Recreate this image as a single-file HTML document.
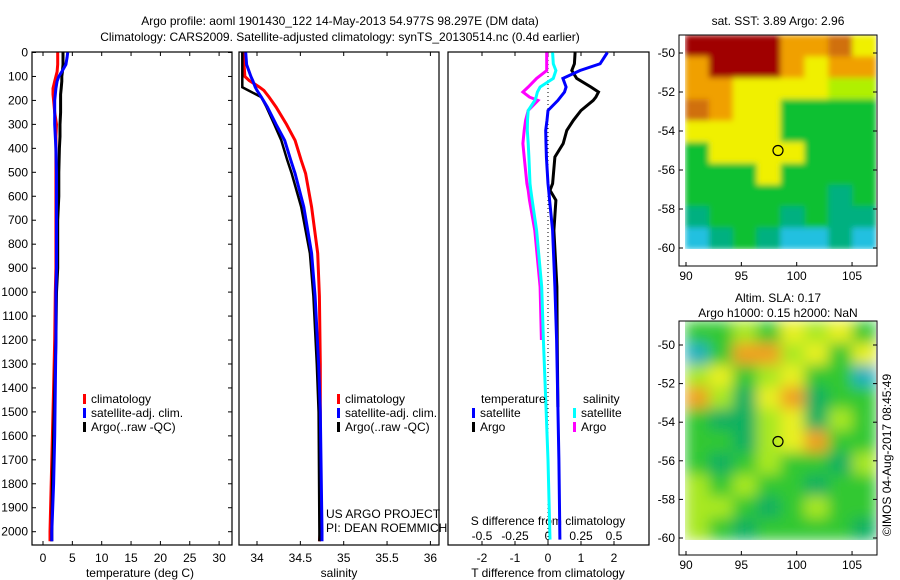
<!DOCTYPE html>
<html><head><meta charset="utf-8"><style>
body{margin:0;background:#fff;}
svg{display:block;font-family:"Liberation Sans",sans-serif;font-size:12px;}
</style></head><body>
<svg id="c" width="900" height="580" viewBox="0 0 900 580">
<defs>
<filter id="bl" x="0" y="0" width="1" height="1"><feGaussianBlur stdDeviation="7" edgeMode="duplicate"/></filter>
<filter id="bl1" x="0" y="0" width="1" height="1"><feGaussianBlur stdDeviation="3" edgeMode="duplicate"/></filter>
<clipPath id="cm1"><rect x="685" y="35" width="191" height="214"/></clipPath>
<clipPath id="cm2"><rect x="685" y="321" width="191" height="219"/></clipPath>
</defs>
<text x="340" y="25" text-anchor="middle">Argo profile: aoml 1901430_122 14-May-2013 54.977S 98.297E (DM data)</text>
<text x="340" y="41" text-anchor="middle">Climatology: CARS2009. Satellite-adjusted climatology: synTS_20130514.nc (0.4d earlier)</text>
<g id="g"></g>
</svg>
<script>
const depthT=[0,20,50,80,100,120,150,175,200,250,300,350,400,500,600,700,800,900,1000,1200,1400,1600,1800,2000,2040];
const tClim=[2.5,2.5,2.5,2.4,2.2,2.0,1.7,1.7,1.8,2.0,2.3,2.2,2.2,2.2,2.2,2.2,2.2,2.2,2.1,2.0,1.8,1.6,1.4,1.2,1.2];
const tSat=[4.2,4.1,3.9,3.2,2.7,2.4,2.2,2.1,2.0,2.0,2.0,2.1,2.2,2.3,2.3,2.3,2.3,2.3,2.2,2.2,2.1,2.0,1.8,1.5,1.5];
const tArgo=[3.4,3.4,3.4,3.3,3.2,3.2,3.1,3.0,3.0,3.0,2.9,2.9,2.8,2.7,2.7,2.5,2.5,2.5,2.3,2.2,2.0,1.8,1.6,1.5,1.5];
const depthS=[0,50,100,117,145,158,186,228,300,367,450,505,645,838,1017,1300,1500,2000,2040];
const sClim=[33.85,33.85,33.86,33.91,34.03,34.08,34.14,34.22,34.34,34.44,34.51,34.56,34.63,34.70,34.72,34.73,34.73,34.73,34.72];
const sSat=[33.87,33.88,33.93,33.95,33.98,34.00,34.05,34.12,34.22,34.32,34.39,34.44,34.54,34.63,34.67,34.71,34.73,34.75,34.75];
const sArgo=[33.83,33.83,33.83,33.83,33.83,33.90,34.05,34.11,34.20,34.28,34.35,34.40,34.51,34.61,34.65,34.69,34.71,34.72,34.72];
const depthD=[0,47,75,108,144,165,186,200,242,283,325,380,436,547,575,617,743,978,1200,1480,1700,2033];
const dTsat=[1.8,1.58,0.97,0.45,0.55,0.5,0.38,0.3,0.0,-0.03,-0.07,-0.06,-0.05,0.0,0.02,0.05,0.14,0.21,0.26,0.3,0.33,0.36];
const dTargo=[0.82,0.8,0.72,0.87,1.3,1.53,1.45,1.37,1.0,0.77,0.57,0.46,0.21,0.14,0.06,0.24,0.18,0.27,0.28,0.3,null,null];
const dSargo=[-0.01,-0.01,-0.01,-0.086,-0.15,-0.19,-0.14,-0.076,-0.15,-0.17,-0.18,-0.19,-0.18,-0.16,-0.15,-0.14,-0.1,-0.06,-0.05,null,null,null];
const dSsat=[0.035,0.04,0.06,0.04,-0.06,-0.08,-0.09,-0.1,-0.15,-0.155,-0.157,-0.15,-0.145,-0.136,-0.13,-0.12,-0.086,-0.048,-0.035,-0.015,0.0,0.015];
const depthTicks=[0,100,200,300,400,500,600,700,800,900,1000,1100,1200,1300,1400,1500,1600,1700,1800,1900,2000];
const tTicks=[0,5,10,15,20,25,30];
const sTicks=[34,34.5,35,35.5,36];
const dtTicks=[-2,-1,0,1,2];
const dsTicks=[-0.5,-0.25,0,0.25,0.5];
const latTicks=[-50,-52,-54,-56,-58,-60];
const lonTicks=[90,95,100,105];
const sstGrid=["RRRROOBY","ORRROYOO","OOYYYYLL","BOYYGGGG","YYYYGGGG","GYYYYGGG","GGGYGGGG","GGGGGGTG","TGGGTGTT","CTGTCCTC"];
const slaGrid=["GGLGYLYG","CGOOLYGY","LYGLYGGC","OLDYODGG","GDDLYDLG","GGDLYOGG","GDGLGGDL","LGLGGDGG","LLGDGLGG","LGDGGGGD"];

const NS="http://www.w3.org/2000/svg",G=document.getElementById('g');
function el(t,a,p){const e=document.createElementNS(NS,t);for(const k in a)e.setAttribute(k,a[k]);(p||G).appendChild(e);return e;}
const y=d=>52.5+0.2396*d;
const xT=v=>43+5.87*v, xS=v=>257+86.7*(v-34), xDT=v=>548+33*v, xDS=v=>548+132*v;
function line(xs,ys,fx,col,w,name){let pts=[];for(let i=0;i<xs.length;i++){if(xs[i]==null)continue;pts.push(fx(xs[i]).toFixed(1)+','+y(ys[i]).toFixed(1));}
 const p=el('polyline',{points:pts.join(' '),fill:'none',stroke:col,'stroke-width':w,'stroke-linejoin':'miter'});
 
 }
function box(x1,x2,name){const r=el('rect',{x:x1,y:52,width:x2-x1,height:493,fill:'none',stroke:'#000','stroke-width':1.2});
 
 }
function txt(x,yy,s,anchor,name,extra){const t=el('text',Object.assign({x:x,y:yy,'text-anchor':anchor||'middle'},extra||{}));t.textContent=s;
 
 return t;}
box(32,232,'temperature-panel');box(239,439,'salinity-panel');box(448,649,'difference-panel');
depthTicks.forEach(d=>{el('line',{x1:32,x2:36,y1:y(d),y2:y(d),stroke:'#000'});el('line',{x1:228,x2:232,y1:y(d),y2:y(d),stroke:'#000'});
 txt(28,y(d)+4,String(d),'end','depth-tick-label');});
tTicks.forEach(v=>{el('line',{x1:xT(v),x2:xT(v),y1:545,y2:541,stroke:'#000'});el('line',{x1:xT(v),x2:xT(v),y1:52,y2:56,stroke:'#000'});txt(xT(v),562,String(v),'middle','temp-tick-label');});
sTicks.forEach(v=>{el('line',{x1:xS(v),x2:xS(v),y1:545,y2:541,stroke:'#000'});el('line',{x1:xS(v),x2:xS(v),y1:52,y2:56,stroke:'#000'});txt(xS(v),562,String(v),'middle','salinity-tick-label');});
dtTicks.forEach(v=>{el('line',{x1:xDT(v),x2:xDT(v),y1:545,y2:541,stroke:'#000'});el('line',{x1:xDT(v),x2:xDT(v),y1:52,y2:56,stroke:'#000'});txt(xDT(v),562,String(v),'middle','tdiff-tick-label');});
dsTicks.forEach(v=>{txt(xDS(v),540,String(v),'middle','sdiff-tick-label');});
txt(140,577,'temperature (deg C)','middle','x-axis-title-temperature');
txt(339,577,'salinity','middle','x-axis-title-salinity');
txt(548,577,'T difference from climatology','middle','x-axis-title-tdiff');
txt(548,525,'S difference from climatology','middle','x-axis-title-sdiff');
el('line',{x1:548,x2:548,y1:52,y2:545,stroke:'#000','stroke-dasharray':'1,3'});
line(tClim,depthT,xT,'#f00',3,'temp-climatology-line');
line(tArgo,depthT,xT,'#000',3,'temp-argo-line');
line(tSat,depthT,xT,'#00f',3,'temp-satellite-line');
line(sClim,depthS,xS,'#f00',3,'sal-climatology-line');
line(sArgo,depthS,xS,'#000',2.5,'sal-argo-line');
line(sSat,depthS,xS,'#00f',3,'sal-satellite-line');
line(dSargo,depthD,xDS,'#f0f',3,'sdiff-argo-line');
line(dSsat,depthD,xDS,'#0ff',3,'sdiff-satellite-line');
line(dTargo,depthD,xDT,'#000',3,'tdiff-argo-line');
line(dTsat,depthD,xDT,'#00f',3,'tdiff-satellite-line');
function leg(x,yy,col,s){el('rect',{x:x,y:yy-9,width:3,height:10,fill:col});txt(x+8,yy,s,'start','legend-entry');}
leg(83,403,'#f00','climatology');leg(83,417,'#00f','satellite-adj. clim.');leg(83,431,'#000','Argo(..raw -QC)');
leg(337,403,'#f00','climatology');leg(337,417,'#00f','satellite-adj. clim.');leg(337,431,'#000','Argo(..raw -QC)');
txt(481,403,'temperature','start','legend-title-temperature');leg(472,417,'#00f','satellite');leg(472,431,'#000','Argo');
txt(583,403,'salinity','start','legend-title-salinity');leg(573,417,'#0ff','satellite');leg(573,431,'#f0f','Argo');
txt(326,518,'US ARGO PROJECT','start','credit-project');txt(326,532,'PI: DEAN ROEMMICH','start','credit-pi');
const COL={R:'#a00000',O:'#f0a000',B:'#d07010',Y:'#f0f000',L:'#b0f000',G:'#10c030',T:'#00b080',C:'#20c0e0',D:'#10b060'};
const SLA={G:'#30c830',D:'#10b060',Y:'#e8f020',L:'#a8e820',O:'#f0a020',C:'#20b0c0'};
function map(grid,cols,x0,y0,w,h,clip,filt,yb,latY0,latY1,name){
 const g=el('g',{'clip-path':'url(#'+clip+')'});
 const inner=el('g',{filter:'url(#'+filt+')'},g);
 const cw=w/grid[0].length,ch=h/grid.length;
 grid.forEach((r,i)=>[...r].forEach((c,j)=>el('rect',{x:x0+j*cw,y:y0+i*ch,width:cw+0.5,height:ch+0.5,fill:cols[c]},inner)));
 el('rect',{x:679,y:y0,width:198,height:yb-y0,fill:'none',stroke:'#000'});
 const ly=v=>latY0+(latY1-latY0)*(v+50)/(-10);
 latTicks.forEach(v=>{el('line',{x1:873,x2:877,y1:ly(v),y2:ly(v),stroke:'#000'});el('line',{x1:679,x2:683,y1:ly(v),y2:ly(v),stroke:'#000'});txt(675,ly(v)+4,String(v),'end','lat-tick-label');});
 const lx=v=>686+11.07*(v-90);
 lonTicks.forEach(v=>{el('line',{x1:lx(v),x2:lx(v),y1:yb,y2:yb-4,stroke:'#000'});txt(lx(v),yb+14,String(v),'middle','lon-tick-label');});
 el('circle',{cx:778,cy:ly(-55),r:5,fill:'none',stroke:'#000','stroke-width':1.2});
}
map(sstGrid,COL,685,35,191,214,'cm1','bl1',266,53,248,'sst-map');
map(slaGrid,SLA,685,321,191,219,'cm2','bl',555,345,538,'sla-map');
txt(778,25,'sat. SST: 3.89 Argo: 2.96','middle','sst-map-title');
txt(778,302,'Altim. SLA: 0.17','middle','sla-map-title');
txt(778,317,'Argo h1000: 0.15 h2000: NaN','middle','sla-map-subtitle');
txt(0,0,'©IMOS 04-Aug-2017 08:45:49','middle','timestamp',{transform:'translate(891,455) rotate(-90)'});
</script>
</body></html>
